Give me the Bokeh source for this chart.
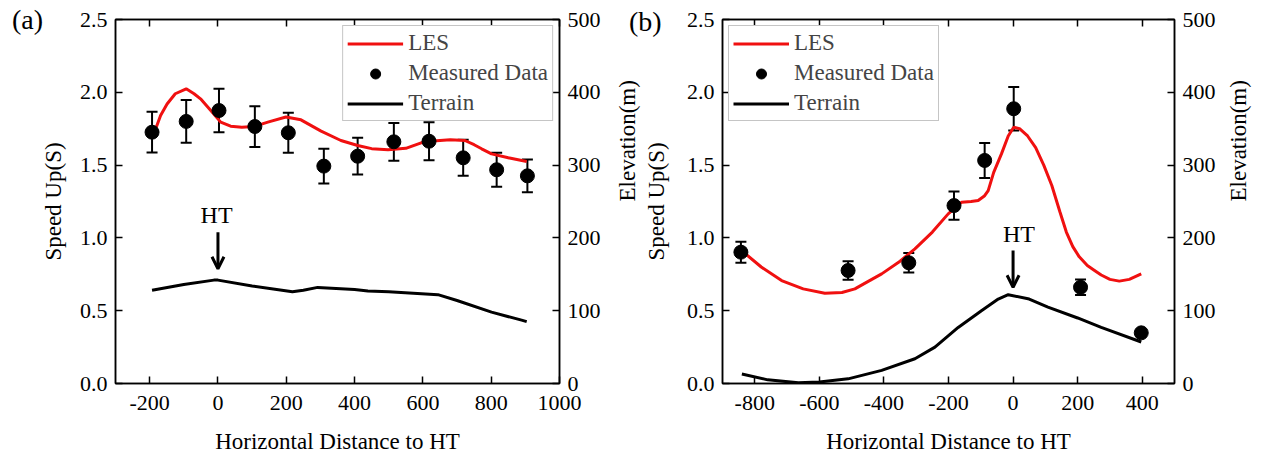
import math
from bokeh.plotting import figure
from bokeh.models import (Range1d, LinearAxis, FixedTicker, Legend, LegendItem, Whisker, Div,
                          TeeHead, ColumnDataSource, Label, Arrow, OpenHead, NumeralTickFormatter)
from bokeh.layouts import row
from bokeh.embed import file_html
from bokeh.resources import INLINE

FONT = "Liberation Serif"
RED = "#f01010"

# ---------------- Panel (a) data ----------------
a_meas_x = [-193, -93, 3, 108, 206, 310, 409, 515, 618, 718, 816, 906]
a_meas_y = [1.726, 1.80, 1.875, 1.765, 1.722, 1.493, 1.561, 1.66, 1.664, 1.55, 1.468, 1.426]
a_meas_err = [0.14, 0.147, 0.15, 0.14, 0.138, 0.12, 0.126, 0.13, 0.13, 0.124, 0.117, 0.113]

a_les_x = [-186, -168, -149, -125, -93, -70, -51, -21, 8, 37, 70, 105, 146, 199, 243, 302,
           360, 409, 450, 498, 550, 595, 640, 680, 723, 750, 772, 801, 850, 904]
a_les_y = [1.726, 1.84, 1.92, 1.99, 2.024, 1.99, 1.955, 1.875, 1.795, 1.767, 1.76, 1.765, 1.795,
           1.83, 1.811, 1.733, 1.669, 1.635, 1.613, 1.605, 1.615, 1.653, 1.668, 1.674, 1.669,
           1.64, 1.612, 1.577, 1.55, 1.525]

a_ter_x = [-193, -100, -12, 0, 100, 218, 250, 292, 400, 439, 500, 644, 700, 801, 889, 904]
a_ter_y = [128, 136, 142, 142, 134, 126, 128, 132, 129, 127, 126, 122, 114, 98, 87, 85]

a_xticks = [-200, 0, 200, 400, 600, 800, 1000]

# ---------------- Panel (b) data ----------------
b_meas_x = [-843, -511, -323, -183, -88, 2, 209, 397]
b_meas_y = [0.902, 0.776, 0.829, 1.222, 1.532, 1.887, 0.661, 0.348]
b_meas_err = [0.072, 0.063, 0.067, 0.097, 0.12, 0.15, 0.054, 0.02]

b_les_x = [-835, -780, -717, -650, -583, -530, -490, -450, -407, -350, -304, -250, -201, -159,
           -130, -108, -88, -77, -60, -36, -15, 2, 20, 45, 70, 95, 120, 145, 165, 185,
           205, 230, 250, 273, 300, 329, 360, 397]
b_les_y = [0.902, 0.80, 0.707, 0.65, 0.62, 0.625, 0.65, 0.70, 0.753, 0.84, 0.925, 1.04, 1.165,
           1.245, 1.25, 1.257, 1.29, 1.325, 1.45, 1.577, 1.70, 1.76, 1.75, 1.70, 1.62, 1.50,
           1.36, 1.18, 1.04, 0.94, 0.87, 0.81, 0.78, 0.745, 0.715, 0.703, 0.715, 0.753]

b_ter_x = [-840, -760, -665, -600, -511, -407, -304, -242, -170, -98, -46, -15, 50, 108, 200, 273, 397]
b_ter_y = [13, 5, 1, 2, 6.4, 18, 34, 50, 77, 100, 116, 122, 116, 105, 90, 77, 57]

b_xticks = [-800, -600, -400, -200, 0, 200, 400]

speed_ticks = [0, 0.5, 1.0, 1.5, 2.0, 2.5]
elev_ticks = [0, 100, 200, 300, 400, 500]

labels = ["LES", "Measured Data", "Terrain"]
tags = ["(a)", "(b)"]

# annotation positions (data units): HT text and arrow
a_ht = dict(tx=-4, ty=1.154, ay0=1.039, ay1=0.788, ax=0)
b_ht = dict(tx=18, ty=1.03, ay0=0.913, ay1=0.661, ax=0)


def style_axis(ax, ticks, fmt):
    ax.ticker = FixedTicker(ticks=ticks)
    ax.formatter = NumeralTickFormatter(format=fmt)
    ax.major_tick_in = 7
    ax.major_tick_out = 0
    ax.minor_tick_in = 0
    ax.minor_tick_out = 0
    ax.axis_line_width = 1.5
    ax.axis_line_color = "black"
    ax.major_tick_line_width = 1.5
    ax.major_tick_line_color = "black"
    ax.major_label_text_font = FONT
    ax.major_label_text_font_size = "22px"
    ax.major_label_text_color = "black"
    ax.major_label_standoff = 8
    ax.axis_label_text_font = FONT
    ax.axis_label_text_font_size = "23px"
    ax.axis_label_text_font_style = "normal"
    ax.axis_label_text_color = "black"


def make_panel(fw, xr, xticks, mx, my, merr, lx, ly, tx, ty, ht, legend_loc,
               mb_left, mb_right, left_std, right_std):
    p = figure(frame_width=fw, frame_height=364,
               x_range=Range1d(*xr), y_range=Range1d(0, 2.5),
               output_backend="svg", toolbar_location=None,
               min_border_left=mb_left, min_border_right=mb_right,
               min_border_top=19, min_border_bottom=72)
    p.grid.visible = False
    p.outline_line_color = "black"
    p.outline_line_width = 1.5
    p.background_fill_color = "white"
    p.border_fill_color = "white"

    p.extra_y_ranges = {"elev": Range1d(0, 500)}

    style_axis(p.xaxis[0], xticks, "0")
    p.xaxis[0].axis_label = "Horizontal Distance to HT"
    p.xaxis[0].major_label_standoff = 12
    p.xaxis[0].axis_label_standoff = 16
    style_axis(p.yaxis[0], speed_ticks, "0.0")
    p.yaxis[0].axis_label = "Speed Up(S)"
    p.yaxis[0].axis_label_standoff = left_std

    right = LinearAxis(y_range_name="elev", axis_label="Elevation(m)")
    style_axis(right, elev_ticks, "0")
    right.axis_label_standoff = right_std
    right.axis_label_orientation = math.pi / 2
    p.add_layout(right, "right")

    top = LinearAxis()
    style_axis(top, xticks, "0")
    top.major_label_overrides = {t: "" for t in xticks}
    top.major_label_standoff = 0
    p.add_layout(top, "above")

    ter = p.line(tx, ty, y_range_name="elev", line_color="black", line_width=3)
    les = p.line(lx, ly, line_color=RED, line_width=3)

    src = ColumnDataSource(dict(x=mx, y=my,
                                upper=[v + e for v, e in zip(my, merr)],
                                lower=[v - e for v, e in zip(my, merr)]))
    wk = Whisker(source=src, base="x", upper="upper", lower="lower", dimension="height",
                 line_color="black", line_width=2,
                 upper_head=TeeHead(size=11, line_color="black", line_width=2),
                 lower_head=TeeHead(size=11, line_color="black", line_width=2))
    p.add_layout(wk)
    pts = p.scatter("x", "y", source=src, size=14, marker="circle",
                    fill_color="black", line_color="black")

    legend = Legend(items=[LegendItem(label=labels[0], renderers=[les]),
                           LegendItem(label=labels[1], renderers=[pts]),
                           LegendItem(label=labels[2], renderers=[ter])],
                    location=legend_loc, margin=6, padding=4, spacing=4,
                    glyph_width=56, glyph_height=25, label_height=25, label_standoff=5,
                    label_text_font=FONT, label_text_font_size="23px",
                    border_line_color="#8c8c8c", border_line_width=1,
                    background_fill_color="white", background_fill_alpha=1)
    p.add_layout(legend)

    p.add_layout(Label(x=ht["tx"], y=ht["ty"], text="HT", text_align="center",
                       text_baseline="middle", text_font=FONT, text_font_size="24px",
                       text_color="black"))
    p.add_layout(Arrow(x_start=ht["ax"], y_start=ht["ay0"], x_end=ht["ax"], y_end=ht["ay1"],
                       line_width=3, line_color="black",
                       end=OpenHead(size=12, line_width=3, line_color="black")))
    return p


# fig a: frame 115..559 ; fig b: frame 722..1174 (fig b overlaps fig a's right border)
pa = make_panel(444, (-300, 1000), a_xticks, a_meas_x, a_meas_y, a_meas_err,
                a_les_x, a_les_y, a_ter_x, a_ter_y, a_ht, "top_right",
                115, 110, 11, 24)
pb = make_panel(452, (-900, 500), b_xticks, b_meas_x, b_meas_y, b_meas_err,
                b_les_x, b_les_y, b_ter_x, b_ter_y, b_ht, "top_left",
                110, 86, 15, 20)
pb.border_fill_alpha = 0
pb.styles = {"margin-left": "-57px"}

tag_style = {"position": "absolute", "font-family": FONT, "font-size": "28px",
             "line-height": "1", "color": "black", "margin": "0", "padding": "0"}
tag_a = Div(text=tags[0], styles=dict(tag_style, left="12px", top="6px"))
tag_b = Div(text=tags[1], styles=dict(tag_style, left="629px", top="8px"))

layout = row(pa, pb, tag_a, tag_b)
open("out.html", "w").write(file_html(layout, INLINE))
